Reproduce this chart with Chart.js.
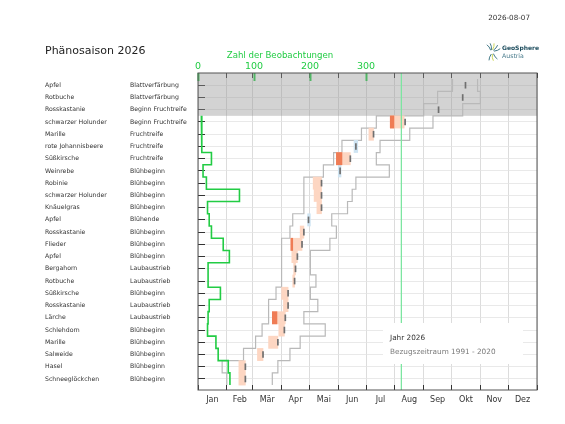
<!DOCTYPE html>
<html lang="de">
<head>
<meta charset="utf-8">
<title>Phänosaison 2026</title>
<script src="https://cdn.jsdelivr.net/npm/chart.js@4.4.1/dist/chart.umd.min.js"></script>
<style>
  html, body { margin: 0; padding: 0; background: #fff; }
  #wrap { width: 565px; height: 424px; }
</style>
</head>
<body>
<div id="wrap"><canvas id="phaeno" width="565" height="424"></canvas></div>
<script>
// ------------------------------------------------------------------
// Daten – Tag im Jahr (1 = 1. Jänner), Zeile 0 = oben
// ------------------------------------------------------------------
const arten = [
  'Apfel', 'Rotbuche', 'Rosskastanie', 'schwarzer Holunder', 'Marille',
  'rote Johannisbeere', 'Süßkirsche', 'Weinrebe', 'Robinie', 'schwarzer Holunder',
  'Knäuelgras', 'Apfel', 'Rosskastanie', 'Flieder', 'Apfel',
  'Bergahorn', 'Rotbuche', 'Süßkirsche', 'Rosskastanie', 'Lärche',
  'Schlehdorn', 'Marille', 'Salweide', 'Hasel', 'Schneeglöckchen',
];
const phasen = [
  'Blattverfärbung', 'Blattverfärbung', 'Beginn Fruchtreife', 'Beginn Fruchtreife', 'Fruchtreife',
  'Fruchtreife', 'Fruchtreife', 'Blühbeginn', 'Blühbeginn', 'Blühbeginn',
  'Blühbeginn', 'Blühende', 'Blühbeginn', 'Blühbeginn', 'Blühbeginn',
  'Laubaustrieb', 'Laubaustrieb', 'Blühbeginn', 'Laubaustrieb', 'Laubaustrieb',
  'Blühbeginn', 'Blühbeginn', 'Blühbeginn', 'Blühbeginn', 'Blühbeginn',
];

// Zahl der Beobachtungen 2026
const beobachtungen = [null, null, null, 6, 7, 7, 24, 9, 15, 74, 17, 20, 24, 45, 56, 18, 18, 40, 20, 18, 17, 32, 36, 54, 57];

// Bezugszeitraum 1991 - 2020
const grenzeLinks  = [274, 258, 243, 192, 176, 155, 146, 135, 114, 114, 114, 102, 99, 90, 90, 90, 90, 84, 76, 76, 69, 62, 49, 26, 31];
const grenzeRechts = [301, 304, 285, 253, 228, 196, 192, 206, 170, 166, 161, 144, 149, 142, 121, 121, 127, 121, 129, 114, 137, 110, 99, 86, 80];
const medianBezug  = [288, 285, 259, 223, 189, 170, 164, 153, 133, 133, 133, 119, 114, 112, 107, 105, 104, 97, 97, 94, 93, 86, 70, 51, 51];

// Jahr 2026: [von, bis]
const balkenHell = [
  null, null, null, [207, 222], [184, 189], null, [149, 164], null, [124, 133], [125, 133],
  [128, 133], null, [110, 114], [100, 112], [101, 107], [103, 105], [102, 104], [90, 97], [92, 97], [80, 94],
  [87, 93], [76, 86], [64, 70], [44, 51], [44, 51],
];
const balkenDunkel = [
  null, null, null, [207, 211], null, null, [149, 155], null, null, null,
  null, null, null, [100, 102], null, null, null, null, null, [80, 85],
  null, null, null, null, null,
];
const balkenBlau = [
  null, null, null, null, null, [168, 172], null, [151, 154], null, null,
  null, [118, 121], null, null, null, null, null, null, null, null,
  null, null, null, null, null,
];

const monate = ['Jan', 'Feb', 'Mär', 'Apr', 'Mai', 'Jun', 'Jul', 'Aug', 'Sep', 'Okt', 'Nov', 'Dez'];
const monatsGrenzen = [0, 31, 59, 90, 120, 151, 181, 212, 243, 273, 304, 334, 365];
const beobTicks = [0, 100, 200, 300];
const heute = 219;        // 2026-08-07
const offenBis = 2.5;     // Zeilen 0-2 noch ohne Eintritt

// ------------------------------------------------------------------
// Aufbereitung
// ------------------------------------------------------------------
const Y_MIN = -1, Y_MAX = 24.9;
const GRUEN = '#22cc44';
const SCHRIFT = "'DejaVu Sans', sans-serif";

const zeilen = arten.map((_, i) => i);
const monatsMitten = monate.map((_, i) => (monatsGrenzen[i] + monatsGrenzen[i + 1]) / 2);

// Treppenlinie: jede Zeile als senkrechtes Stück über ihre Höhe
function treppe(werte) {
  const pts = [];
  werte.forEach((v, i) => {
    if (v == null) return;
    pts.push({ x: v, y: i - 0.5 }, { x: v, y: i + 0.5 });
  });
  return pts;
}

function balken(liste) {
  return liste.map((b, i) => (b ? { x: b, y: i } : null)).filter(Boolean);
}

const balkenOpt = {
  type: 'bar', indexAxis: 'y', grouped: false,
  barPercentage: 1, categoryPercentage: 1, borderWidth: 0,
  xAxisID: 'x', yAxisID: 'y',
};

const linie = { type: 'line', pointRadius: 0, fill: false, tension: 0, xAxisID: 'x', yAxisID: 'y' };

// ------------------------------------------------------------------
// Zusatz-Zeichnungen: Band, Legende, Rahmen, Titel
// ------------------------------------------------------------------
const zusatz = {
  id: 'zusatz',
  beforeDatasetsDraw(chart) {
    const { ctx, chartArea: a, scales: { y } } = chart;
    ctx.save();
    ctx.fillStyle = 'rgba(150,150,150,0.42)';
    ctx.fillRect(a.left, a.top, a.right - a.left, y.getPixelForValue(offenBis) - a.top);
    ctx.restore();
  },
  afterDatasetsDraw(chart) {
    const ctx = chart.ctx;
    ctx.save();
    ctx.fillStyle = '#fff';
    ctx.fillRect(383, 323, 140, 41);
    ctx.font = `7.3px ${SCHRIFT}`;
    ctx.textBaseline = 'middle';
    ctx.textAlign = 'left';
    ctx.fillStyle = '#333';
    ctx.fillText('Jahr 2026', 390, 338);
    ctx.fillStyle = '#7a7a7a';
    ctx.fillText('Bezugszeitraum 1991 - 2020', 390, 352);
    ctx.restore();
  },
  afterDraw(chart) {
    const { ctx, chartArea: a } = chart;
    ctx.save();
    ctx.strokeStyle = '#555';
    ctx.lineWidth = 1;
    ctx.strokeRect(a.left, a.top, a.right - a.left, a.bottom - a.top);

    ctx.textBaseline = 'middle';
    ctx.textAlign = 'left';
    ctx.fillStyle = '#222';
    ctx.font = `11px ${SCHRIFT}`;
    ctx.fillText('Phänosaison 2026', 45, 51);

    ctx.textAlign = 'right';
    ctx.fillStyle = '#333';
    ctx.font = `7.2px ${SCHRIFT}`;
    ctx.fillText('2026-08-07', 530, 18);

    ctx.textAlign = 'center';
    ctx.fillStyle = GRUEN;
    ctx.font = `8.6px ${SCHRIFT}`;
    ctx.fillText('Zahl der Beobachtungen', 280, 56);

    // Logo
    ctx.textAlign = 'left';
    ctx.fillStyle = '#1f4e5f';
    ctx.font = `bold 6px ${SCHRIFT}`;
    ctx.fillText('GeoSphere', 502, 48);
    ctx.fillStyle = '#46798a';
    ctx.font = `6.2px ${SCHRIFT}`;
    ctx.fillText('Austria', 502, 56);
    ctx.lineWidth = 0.9;
    ctx.lineCap = 'round';
    const strahlen = [[-0.6, '#2f6b7a'], [-0.2, '#2f6b7a'], [0.25, '#c9d24a'], [0.7, '#2f6b7a'],
                      [1.2, '#2f6b7a'], [2.5, '#2f6b7a'], [3.0, '#c9d24a'], [3.5, '#2f6b7a']];
    strahlen.forEach(([w, c]) => {
      ctx.strokeStyle = c;
      ctx.beginPath();
      ctx.moveTo(492 + Math.cos(w - 1.57) * 2.5, 52 + Math.sin(w - 1.57) * 2.5);
      ctx.quadraticCurveTo(492 + Math.cos(w - 1.4) * 6, 52 + Math.sin(w - 1.4) * 6,
                           492 + Math.cos(w - 1.57) * 8.5, 52 + Math.sin(w - 1.57) * 8.5);
      ctx.stroke();
    });
    ctx.restore();
  },
};

// ------------------------------------------------------------------
// Diagramm
// ------------------------------------------------------------------
new Chart(document.getElementById('phaeno'), {
  type: 'scatter',
  data: {
    datasets: [
      {
        type: 'scatter', label: 'Median 1991-2020',
        data: medianBezug.map((v, i) => ({ x: v, y: i })),
        pointStyle: 'line', rotation: 90, radius: 3.3, hoverRadius: 3.3,
        borderColor: '#707070', borderWidth: 1.7, xAxisID: 'x', yAxisID: 'y',
      },
      { ...linie, label: 'heute', data: [{ x: heute, y: Y_MIN }, { x: heute, y: Y_MAX }], borderColor: '#7ee6a2', borderWidth: 1 },
      { ...balkenOpt, label: 'deutlich früher', data: balken(balkenDunkel), backgroundColor: '#ef7c55' },
      { ...balkenOpt, label: 'später', data: balken(balkenBlau), backgroundColor: '#cfe4f2' },
      { ...balkenOpt, label: 'früher', data: balken(balkenHell), backgroundColor: '#fdd6c2' },
      { ...linie, label: 'Beobachtungen', data: treppe(beobachtungen), xAxisID: 'x2', borderColor: GRUEN, borderWidth: 1.6 },
      { ...linie, label: 'früh', data: treppe(grenzeLinks), borderColor: '#b9b9b9', borderWidth: 1.2 },
      { ...linie, label: 'spät', data: treppe(grenzeRechts), borderColor: '#b9b9b9', borderWidth: 1.2 },
    ],
  },
  plugins: [zusatz],
  options: {
    responsive: false,
    animation: false,
    events: [],
    layout: { padding: { left: 45, right: 28, top: 40, bottom: 0 } },
    plugins: { legend: { display: false }, tooltip: { enabled: false }, title: { display: false } },
    scales: {
      x: {
        type: 'linear', axis: 'x', position: 'bottom', min: 0, max: 365, offset: false, weight: 0,
        beginAtZero: false,
        afterBuildTicks: s => { s.ticks = [...monatsGrenzen, ...monatsMitten].sort((p, q) => p - q).map(v => ({ value: v })); },
        afterFit: s => { s.height = 34; },
        ticks: {
          autoSkip: false, maxRotation: 0, padding: 10, color: '#333',
          font: { family: SCHRIFT, size: 8 },
          callback: v => { const i = monatsMitten.indexOf(v); return i >= 0 ? monate[i] : ''; },
        },
        grid: {
          offset: false, lineWidth: 0.8, tickLength: -5, tickWidth: 1,
          color: c => (monatsGrenzen.includes(c.tick.value) ? '#d3d3d3' : 'rgba(0,0,0,0)'),
          tickColor: c => (monatsGrenzen.includes(c.tick.value) ? '#333' : 'rgba(0,0,0,0)'),
        },
        border: { display: false },
      },
      xOben: {
        type: 'linear', axis: 'x', position: 'top', min: 0, max: 365, offset: false, weight: 0,
        afterBuildTicks: s => { s.ticks = monatsGrenzen.map(v => ({ value: v })); },
        afterFit: s => { s.height = 0; },
        ticks: { display: false },
        grid: { offset: false, drawOnChartArea: false, tickLength: -5, tickColor: '#333', tickWidth: 1 },
        border: { display: false },
      },
      x2: {
        type: 'linear', axis: 'x', position: 'top', min: 0, max: 605, offset: false, weight: 1,
        afterBuildTicks: s => { s.ticks = beobTicks.map(v => ({ value: v })); },
        afterFit: s => { s.height = 33; },
        ticks: { autoSkip: false, maxRotation: 0, padding: 8.3, color: GRUEN, font: { family: SCHRIFT, size: 9.5 } },
        grid: { offset: false, drawOnChartArea: false, tickLength: -8, tickColor: GRUEN, tickWidth: 2 },
        border: { display: false },
      },
      y: {
        type: 'linear', axis: 'y', position: 'left', min: Y_MIN, max: Y_MAX, reverse: true, weight: 0,
        offset: false,
        afterBuildTicks: s => { s.ticks = zeilen.map(v => ({ value: v })); },
        afterFit: s => { s.width = 68; },
        ticks: {
          autoSkip: false, crossAlign: 'far', color: '#333',
          font: { family: SCHRIFT, size: 6.2 },
          callback: v => phasen[v] ?? '',
        },
        grid: { offset: false, color: '#e3e3e3', lineWidth: 0.8, tickLength: -7, tickColor: '#333', tickWidth: 1 },
        border: { display: false },
      },
      yArt: {
        type: 'linear', axis: 'y', position: 'left', min: Y_MIN, max: Y_MAX, reverse: true, weight: 1,
        offset: false,
        afterBuildTicks: s => { s.ticks = zeilen.map(v => ({ value: v })); },
        afterFit: s => { s.width = 85; },
        ticks: {
          autoSkip: false, crossAlign: 'far', color: '#333',
          font: { family: SCHRIFT, size: 6.2 },
          callback: v => arten[v] ?? '',
        },
        grid: { display: false },
        border: { display: false },
      },
    },
  },
});
</script>
</body>
</html>
